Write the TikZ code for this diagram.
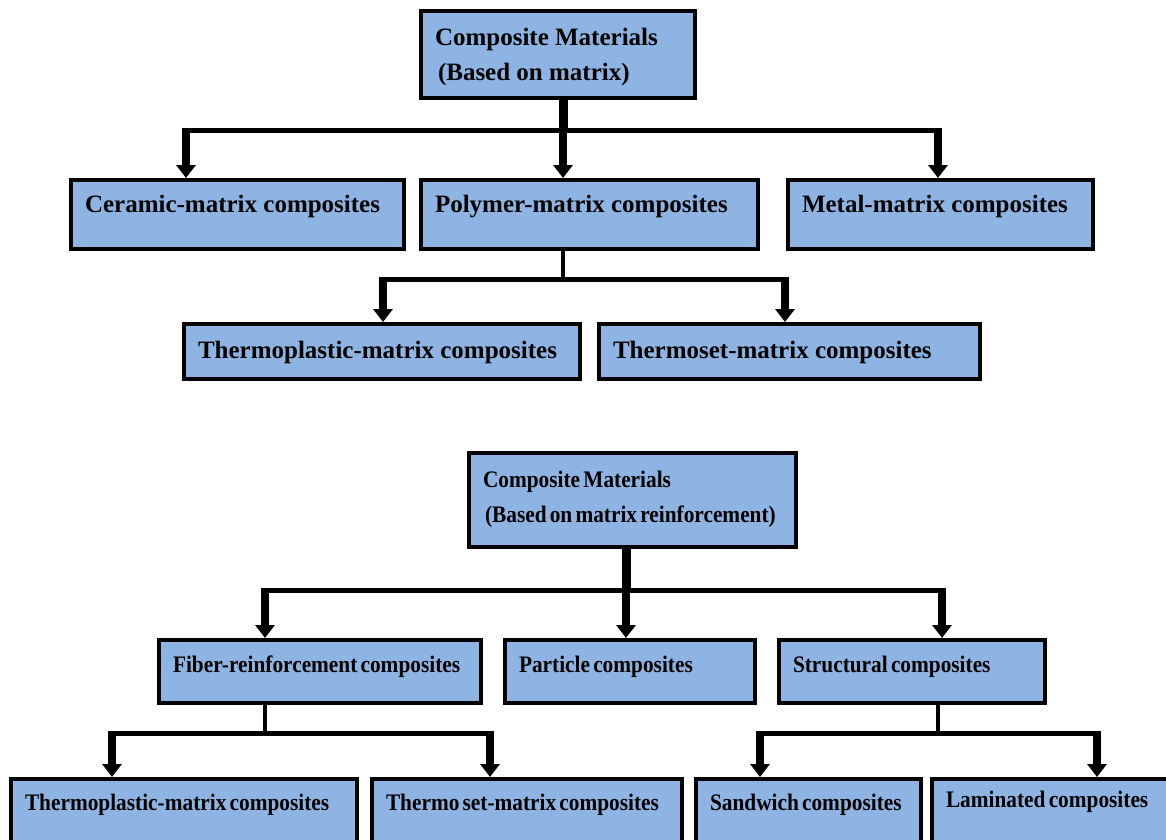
\documentclass[tikz,border=0pt]{standalone}
\usepackage{fontspec}
\setmainfont{Liberation Serif}
\newfontfamily\narrowserif[FakeStretch=0.9,WordSpace=0.6]{Liberation Serif}
\usetikzlibrary{arrows.meta}
\definecolor{boxblue}{RGB}{141,180,227}

\begin{document}
\begin{tikzpicture}[x=1pt,y=-1pt,
                    line cap=butt]
    \tikzstyle{block}=[draw=black,line width=4pt,fill=boxblue,anchor=north west,
                       inner xsep=14pt,inner ysep=0pt,align=left,
                       execute at begin node={\spaceskip=0pt\xspaceskip=0pt\rightskip=0pt plus 1fil\hyphenpenalty=10000},
                       font=\fontsize{25}{35}\selectfont\bfseries]
    \tikzstyle{lowblock}=[block,font=\narrowserif\fontsize{23.7}{35}\selectfont\bfseries]
    \tikzstyle{rowa}=[text height=32pt,text depth=37pt]
    \tikzstyle{rowb}=[text height=34pt,text depth=21pt]
    \tikzstyle{rowc}=[text height=32pt,text depth=31pt]
    \tikzstyle{rowd}=[text height=31pt,text depth=40pt]
    \tikzstyle{trunkline}=[line width=9pt]
    \tikzstyle{barline}=[line width=5pt]
    \tikzstyle{stemline}=[line width=4pt]
    \tikzstyle{arrowline}=[line width=8pt,-{Triangle[width=19pt,length=13pt]}]

    \useasboundingbox (0,0) rectangle (1166,839);
    \clip (0,0) rectangle (1166,839);

    % based on matrix
    \node[block,text width=246pt,text height=34pt,text depth=53pt] (matrix) at (419,9)
        {Composite Materials\\\hspace*{3pt}(Based on matrix)};
    \node[block,rowa,text width=305pt] (ceramic) at (69,178) {Ceramic-matrix composites};
    \node[block,rowa,text width=309pt] (polymer) at (419,178) {Polymer-matrix composites};
    \node[block,rowa,text width=277pt] (metal) at (786,178) {Metal-matrix composites};
    \node[block,rowb,text width=368pt] (plastic) at (182,322) {Thermoplastic-matrix composites};
    \node[block,rowb,text width=353pt] (thermoset) at (597,322) {Thermoset-matrix composites};

    \coordinate (m0) at (563,130);
    \coordinate (m1) at (186,130);
    \coordinate (m2) at (938,130);
    \draw[trunkline] (matrix.south -| m0) -- (m0);
    \draw[barline] ([xshift=-4pt]m1) -- ([xshift=4pt]m2);
    \draw[arrowline] ([yshift=2.5pt]m1) -- (m1 |- ceramic.north);
    \draw[arrowline] ([yshift=2.5pt]m0) -- (m0 |- polymer.north);
    \draw[arrowline] ([yshift=2.5pt]m2) -- (m2 |- metal.north);

    \coordinate (p0) at (563,279);
    \coordinate (p1) at (383,279);
    \coordinate (p2) at (785,279);
    \draw[stemline] (polymer.south -| p0) -- (p0);
    \draw[barline] ([xshift=-4pt]p1) -- ([xshift=4pt]p2);
    \draw[arrowline] ([yshift=2.5pt]p1) -- (p1 |- plastic.north);
    \draw[arrowline] ([yshift=2.5pt]p2) -- (p2 |- thermoset.north);

    % based on reinforcement
    \node[lowblock,text width=299pt,text height=34pt,text depth=60pt] (reinf) at (467,451)
        {Composite Materials\\\hspace*{2pt}(Based on matrix reinforcement)};
    \node[lowblock,rowc,text width=294pt] (fiber) at (157,638) {Fiber-reinforcement composites};
    \node[lowblock,rowc,text width=222pt] (particle) at (503,638) {Particle composites};
    \node[lowblock,rowc,text width=238pt] (structural) at (777,638) {Structural composites};
    \node[lowblock,rowd,text width=318pt] (plasticb) at (9,777) {Thermoplastic-matrix composites};
    \node[lowblock,rowd,text width=282pt] (thermosetb) at (370,777) {Thermo set-matrix composites};
    \node[lowblock,rowd,text width=197pt] (sandwich) at (694,777) {Sandwich composites};
    \node[lowblock,text height=28pt,text depth=43pt,text width=218pt] (laminated) at (930,777)
        {Laminated composites};

    \coordinate (r0) at (626,590);
    \coordinate (r1) at (265,590);
    \coordinate (r2) at (942,590);
    \draw[trunkline] (reinf.south -| r0) -- (r0);
    \draw[barline] ([xshift=-4pt]r1) -- ([xshift=4pt]r2);
    \draw[arrowline] ([yshift=2.5pt]r1) -- (r1 |- fiber.north);
    \draw[arrowline] ([yshift=2.5pt]r0) -- (r0 |- particle.north);
    \draw[arrowline] ([yshift=2.5pt]r2) -- (r2 |- structural.north);

    \coordinate (f0) at (265,733);
    \coordinate (f1) at (112,733);
    \coordinate (f2) at (490,733);
    \draw[stemline] (fiber.south -| f0) -- (f0);
    \draw[barline] ([xshift=-4pt]f1) -- ([xshift=4pt]f2);
    \draw[arrowline] ([yshift=2.5pt]f1) -- (f1 |- plasticb.north);
    \draw[arrowline] ([yshift=2.5pt]f2) -- (f2 |- thermosetb.north);

    \coordinate (s0) at (938,733);
    \coordinate (s1) at (760,733);
    \coordinate (s2) at (1097,733);
    \draw[stemline] (structural.south -| s0) -- (s0);
    \draw[barline] ([xshift=-4pt]s1) -- ([xshift=4pt]s2);
    \draw[arrowline] ([yshift=2.5pt]s1) -- (s1 |- sandwich.north);
    \draw[arrowline] ([yshift=2.5pt]s2) -- (s2 |- laminated.north);
\end{tikzpicture}
\end{document}
